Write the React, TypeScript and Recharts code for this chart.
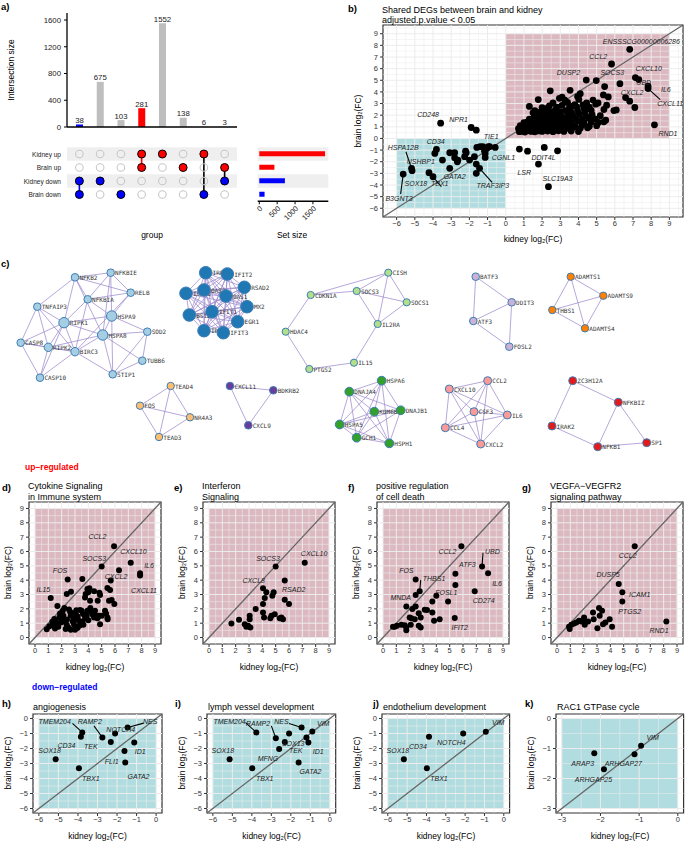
import React from 'react';
import {
  BarChart, Bar, Cell, XAxis, YAxis, ScatterChart, Scatter,
  ReferenceLine, ReferenceArea, LabelList,
} from 'recharts';

const FONT = '"Liberation Sans", Arial, Helvetica, sans-serif';
const MONO = '"DejaVu Sans Mono", monospace';
const RED = '#ff0000';
const BLUE = '#0000ff';
const GREY = '#bebebe';
const PINK = '#dcb9c1';
const TEAL = '#b2dde0';

// ---------------- panel a ----------------
const intersectionIds = [1, 2, 3, 4, 5, 6, 7, 8];
const intersectionSizes = [38, 675, 103, 281, 1552, 138, 6, 3];
const intersectionColors = [BLUE, GREY, GREY, RED, GREY, GREY, GREY, GREY];
const setNames = ['Kidney up', 'Brain up', 'Kidney down', 'Brain down'];
const setSizes = [1839, 422, 716, 147];
const setColors = [RED, RED, BLUE, BLUE];
const intersectionMembers = [[2, 3], [2], [3], [0, 1], [0], [1], [0, 3], [1, 2]];
const linkColors = [BLUE, '', '', RED, '', '', '#000', '#000'];

// ---------------- panel b ----------------
const bUp: number[][] = [
  [6.82, 7.66], [5.82, 6.40], [4.98, 4.97], [4.43, 5.02], [7.13, 5.23], [7.32, 5.06], [6.28, 4.71], [7.83, 4.49], [7.83, 4.29],
  [6.59, 3.51], [6.82, 3.20], [7.10, 2.66], [8.18, 1.17], [5.44, 4.46], [5.37, 3.74], [5.64, 3.57], [5.55, 2.86], [5.40, 2.49],
  [5.95, 2.40], [6.08, 2.45], [5.50, 1.57], [5.40, 1.43], [3.54, 4.14], [2.45, 4.09], [1.79, 3.34],
  [4.10, 3.85], [3.95, 3.60], [4.02, 3.35], [3.10, 3.55], [3.25, 3.30], [2.95, 3.45], [3.40, 3.10], [4.45, 3.05], [4.80, 3.30],
  [4.95, 2.95], [5.08, 3.05], [4.60, 2.70], [4.30, 2.60], [3.80, 2.90], [3.62, 2.75], [2.60, 3.05], [2.30, 2.60], [2.10, 2.40],
  [1.60, 2.40], [1.30, 2.75], [1.50, 2.20],
  [0.75, 0.58], [0.90, 0.62], [1.05, 0.55], [1.20, 0.66], [1.40, 0.60], [1.60, 0.57], [1.80, 0.65], [2.00, 0.60], [2.30, 0.63],
  [2.60, 0.58], [2.90, 0.66], [3.20, 0.60], [3.60, 0.64], [4.00, 0.59],
  [0.70, 0.85], [0.85, 0.90], [1.00, 0.82], [1.15, 0.92], [1.30, 0.86], [1.50, 0.94], [1.70, 0.84], [1.90, 0.90], [2.10, 0.83],
  [2.40, 0.93], [2.70, 0.86], [3.00, 0.91], [3.30, 0.85], [3.70, 0.95], [4.10, 0.88], [4.50, 0.92],
  [0.80, 1.10], [0.95, 1.05], [1.10, 1.15], [1.25, 1.02], [1.45, 1.12], [1.65, 1.06], [1.85, 1.18], [2.05, 1.04], [2.25, 1.14],
  [2.50, 1.08], [2.80, 1.16], [3.10, 1.03], [3.40, 1.12], [3.80, 1.06], [4.20, 1.15], [4.60, 1.05], [5.00, 1.10],
  [1.00, 1.35], [1.20, 1.42], [1.40, 1.32], [1.60, 1.46], [1.80, 1.38], [2.00, 1.30], [2.20, 1.45], [2.45, 1.36], [2.70, 1.48],
  [3.00, 1.33], [3.30, 1.44], [3.60, 1.37], [3.95, 1.47], [4.30, 1.34], [4.70, 1.42], [5.10, 1.38],
  [1.30, 1.65], [1.55, 1.72], [1.75, 1.62], [1.95, 1.78], [2.15, 1.68], [2.40, 1.75], [2.65, 1.64], [2.90, 1.76], [3.20, 1.66],
  [3.50, 1.79], [3.85, 1.70], [4.20, 1.63], [4.55, 1.74], [4.90, 1.68],
  [1.60, 1.95], [1.85, 2.05], [2.05, 1.92], [2.30, 2.08], [2.55, 1.98], [2.80, 2.06], [3.05, 1.94], [3.40, 2.02], [3.70, 1.96],
  [4.05, 2.09], [4.40, 1.97], [4.75, 2.04], [5.20, 1.95],
  [1.90, 2.25], [2.20, 2.35], [2.50, 2.28], [2.75, 2.45], [3.00, 2.30], [3.30, 2.40], [3.60, 2.25], [3.95, 2.38], [4.35, 2.30], [4.70, 2.42],
  [2.00, 2.65], [2.40, 2.80], [2.80, 2.70], [3.10, 2.85], [3.50, 2.62], [3.90, 2.72], [4.25, 2.88],
];
const bOther: number[][] = [
  [-3.58, 1.31], [-1.90, 0.94], [-1.62, 0.71], [0.75, -0.91], [1.20, -1.09], [1.80, -2.20], [2.12, -0.77], [2.85, -1.06], [2.35, -4.14],
];
const bDown: number[][] = [
  [-3.81, -0.94], [-3.90, -1.29], [-5.18, -2.57], [-5.15, -2.77], [-5.64, -3.06], [-4.22, -2.94], [-4.00, -3.29], [-3.08, -2.57],
  [-1.62, -3.00], [-1.44, -2.57], [-1.62, -2.20], [-3.48, -1.86], [-3.08, -1.23], [-2.81, -1.23], [-2.81, -1.66], [-2.63, -1.86],
  [-2.66, -2.00], [-2.26, -1.57], [-2.17, -1.23], [-2.21, -1.09], [-1.99, -1.86], [-1.72, -1.57], [-1.59, -0.77], [-1.41, -0.71],
  [-1.17, -1.06], [-1.04, -0.86], [-0.95, -0.71], [-1.13, -1.63], [-0.89, -0.71], [-1.26, -0.71], [-1.13, -1.29], [-0.58, -0.77],
];
const bLabels: [string, number, number][] = [
  ['ENSSSCG00000006286', 7.46, 8.37], ['CCL2', 5.09, 7.06], ['DUSP2', 3.45, 5.71], ['SOCS3', 5.86, 5.63], ['CXCL10', 7.86, 5.97],
  ['UBD', 7.59, 4.77], ['IL6', 8.81, 4.23], ['CXCL2', 6.95, 3.94], ['CXCL11', 9.05, 3.0], ['RND1', 8.92, 0.43],
  ['CD248', -4.27, 2.06], ['NPR1', -2.59, 1.66], ['TIE1', -0.8, 0.14], ['CD34', -3.85, -0.29], ['HSPA12B', -5.64, -0.77],
  ['USHBP1', -4.67, -2.0], ['CGNL1', -0.13, -1.63], ['DDIT4L', 2.08, -1.6], ['LSR', 1.02, -2.94], ['SLC19A3', 2.85, -3.46],
  ['SOX18', -4.94, -3.86], ['GATA2', -2.81, -3.29], ['TRAF3IP3', -0.71, -4.06], ['TBX1', -3.63, -3.86], ['B3GNT3', -5.87, -5.14],
];
const bLeaders: number[][] = [
  [-5.49, -1.14, -5.18, -2.57], [-5.78, -4.77, -5.64, -3.06], [-3.54, -4.14, -4.0, -3.29], [-0.75, -3.77, -1.44, -2.57], [8.5, 3.34, 7.83, 4.29],
];

// ---------------- panels d-g ----------------
const dPts: number[][] = [
  [5.93, 6.36], [7.18, 5.21], [5.0, 4.95], [6.3, 4.7], [5.68, 3.97], [7.88, 4.49], [7.88, 4.32], [2.45, 4.04], [3.55, 4.09], [1.18, 2.76],
  [1.68, 2.2], [2.38, 3.04], [2.7, 3.2], [3.93, 3.39], [4.08, 3.43], [3.8, 3.04], [4.0, 3.15], [4.43, 3.22], [4.83, 3.13], [4.88, 2.97],
  [5.43, 3.46], [5.63, 3.32], [5.55, 2.57], [5.75, 2.62], [5.95, 2.34], [4.7, 2.57], [4.13, 2.57], [3.75, 2.8], [4.15, 2.06],
  [0.88, 0.58], [1.08, 0.79], [1.38, 0.86], [1.5, 0.63], [1.75, 0.75], [1.83, 1.4], [2.0, 1.26], [2.13, 1.52], [2.25, 1.1], [2.38, 0.89],
  [2.5, 0.7], [2.63, 1.8], [2.68, 1.52], [2.83, 1.12], [2.93, 0.89], [3.0, 1.33], [3.13, 1.52], [3.25, 1.21], [3.33, 0.82], [3.43, 1.0],
  [3.55, 1.12], [3.63, 0.89], [3.75, 1.35], [3.88, 1.52], [3.93, 1.87], [4.13, 1.92], [4.25, 1.75], [4.33, 1.59], [4.43, 1.4], [4.5, 1.87],
  [4.55, 1.52], [4.68, 1.35], [4.8, 1.52], [4.88, 0.93], [5.0, 1.52], [5.33, 1.68], [5.43, 1.4], [5.25, 1.87], [5.45, 1.28], [3.38, 1.92],
  [3.5, 1.87], [3.18, 0.66], [3.0, 0.55], [2.68, 0.55], [2.3, 0.6], [2.08, 1.87], [2.2, 2.06], [1.88, 1.68], [1.3, 1.1], [1.55, 1.15],
  [1.65, 0.95], [2.05, 1.45], [2.55, 1.95], [2.85, 1.7], [3.2, 1.45], [3.6, 1.65], [4.0, 1.2], [1.45, 1.3], [1.95, 1.05], [2.4, 1.25],
  [2.9, 1.3], [3.1, 1.9],
];
const dLabels: [string, number, number][] = [
  ['CCL2', 4.68, 7.01], ['CXCL10', 7.38, 6.03], ['SOCS3', 4.45, 5.49], ['IL6', 8.55, 5.0], ['FOS', 1.88, 4.65],
  ['CXCL2', 6.08, 4.28], ['CXCL11', 8.18, 3.27], ['IL15', 0.63, 3.32],
];
const ePts: number[][] = [
  [5.0, 4.95], [7.18, 5.21], [4.05, 3.43], [5.68, 3.97], [5.68, 2.64], [6.0, 2.34], [4.3, 3.15], [4.18, 2.76], [4.05, 2.34], [4.85, 3.15],
  [4.75, 2.92], [4.05, 1.75], [4.13, 1.4], [3.5, 1.99], [3.05, 1.52], [3.05, 1.28], [3.1, 0.7], [2.93, 0.82], [2.68, 0.93], [2.8, 0.75],
  [2.25, 1.24], [1.68, 0.98], [4.68, 1.52], [4.6, 1.35], [4.93, 1.63], [5.43, 1.4], [5.55, 1.28], [5.3, 1.35],
];
const eLabels: [string, number, number][] = [
  ['SOCS3', 4.43, 5.49], ['CXCL10', 7.88, 5.84], ['CXCL8', 3.35, 3.97], ['RSAD2', 6.35, 3.32],
];
const fPts: number[][] = [
  [5.88, 6.36], [7.43, 4.95], [7.88, 4.49], [5.43, 4.44], [5.43, 3.67], [4.0, 2.92], [3.7, 2.52], [4.88, 2.52], [6.88, 3.22], [5.38, 1.36],
  [4.25, 1.28], [3.83, 1.17], [2.45, 4.04], [2.75, 3.22], [2.45, 2.97], [1.75, 2.17], [2.45, 2.17], [2.2, 1.99], [2.0, 1.4], [2.38, 1.28],
  [2.13, 1.35], [2.68, 1.7], [2.83, 1.4], [3.13, 1.94], [3.3, 1.92], [3.7, 1.75], [2.68, 0.82], [2.83, 0.7], [2.08, 0.89], [1.75, 0.7],
  [1.75, 0.5], [1.63, 0.86], [0.88, 0.75], [1.05, 0.82], [1.38, 0.89], [0.75, 0.75],
];
const fLabels: [string, number, number][] = [
  ['CCL2', 4.83, 6.03], ['UBD', 8.2, 6.03], ['ATF3', 6.33, 5.07], ['FOS', 1.75, 4.65], ['THBS1', 3.83, 4.14], ['IL6', 8.55, 3.79],
  ['FOSL1', 4.75, 3.15], ['MNDA', 1.33, 2.8], ['CD274', 7.55, 2.57], ['IFIT2', 5.75, 0.7],
];
const fLeaders: number[][] = [[7.5, 5.91, 7.43, 4.95], [2.83, 4.02, 2.75, 3.22]];
const gPts: number[][] = [
  [5.83, 6.36], [4.63, 3.74], [4.9, 3.15], [4.9, 2.52], [8.2, 1.12], [3.95, 1.28], [4.13, 0.75], [3.15, 2.06], [3.38, 1.87], [3.2, 1.52],
  [3.03, 0.65], [3.45, 0.93], [3.63, 1.05], [2.7, 1.75], [2.75, 1.28], [2.33, 1.12], [2.03, 1.4], [1.95, 1.21], [1.83, 1.12], [2.08, 0.89],
  [1.65, 1.17], [1.45, 1.05], [1.28, 0.98], [1.08, 0.89], [0.9, 0.75], [0.95, 0.6],
];
const gLabels: [string, number, number][] = [
  ['CCL2', 5.3, 5.7], ['DUSP5', 3.83, 4.39], ['ICAM1', 6.2, 2.99], ['PTGS2', 5.45, 1.8], ['RND1', 7.65, 0.47],
];

// ---------------- panels h-k ----------------
const hPts: number[][] = [
  [-1.46, -0.6], [-3.78, -0.93], [-3.85, -1.22], [-2.75, -1.27], [-2.1, -1.0], [-2.32, -1.56], [-1.12, -1.6], [-1.62, -2.16],
  [-1.58, -2.93], [-5.14, -2.71], [-3.95, -3.31],
];
const hLabels: [string, number, number][] = [
  ['TMEM204', -5.19, -0.2], ['RAMP2', -3.39, -0.2], ['NES', -0.3, -0.2], ['NOTCH4', -1.81, -0.71], ['SOX18', -5.45, -2.16],
  ['CD34', -4.59, -1.82], ['TEK', -3.34, -1.89], ['ID1', -0.81, -2.2], ['FLI1', -2.27, -2.87], ['GATA2', -0.9, -3.87], ['TBX1', -3.34, -3.98],
];
const hLeaders: number[][] = [[-4.28, -0.33, -3.78, -0.93], [-3.18, -0.49, -2.75, -1.27], [-0.64, -0.31, -1.46, -0.6]];
const iPts: number[][] = [
  [-3.77, -0.93], [-2.77, -1.31], [-1.45, -0.6], [-0.9, -0.87], [-2.09, -1.0], [-1.2, -1.27], [-1.1, -1.6], [-2.31, -1.56],
  [-2.6, -2.04], [-1.6, -2.93], [-5.14, -2.71], [-3.98, -3.31],
];
const iLabels: [string, number, number][] = [
  ['TMEM204', -5.14, -0.2], ['RAMP2', -3.68, -0.33], ['NES', -2.48, -0.2], ['VIM', -0.34, -0.31], ['SOX13', -1.88, -1.67],
  ['TEK', -1.75, -2.16], ['ID1', -0.6, -2.2], ['MFNG', -3.17, -2.64], ['GATA2', -0.99, -3.53], ['SOX18', -5.49, -2.16], ['TBX1', -3.34, -3.98],
];
const iLeaders: number[][] = [[-4.32, -0.27, -3.77, -0.93], [-3.0, -0.49, -2.77, -1.31], [-2.09, -0.33, -1.45, -0.6]];
const jPts: number[][] = [[-0.93, -0.89], [-2.1, -1.0], [-3.87, -1.22], [-5.17, -2.71], [-3.98, -3.31]];
const jLabels: [string, number, number][] = [
  ['VIM', -0.29, -0.27], ['NOTCH4', -2.71, -1.6], ['CD34', -4.44, -1.89], ['SOX18', -5.48, -2.16], ['TBX1', -3.35, -3.98],
];
const kPts: number[][] = [[-0.95, -0.91], [-1.12, -1.19], [-2.16, -1.16], [-1.91, -1.69]];
const kLabels: [string, number, number][] = [
  ['VIM', -0.65, -0.63], ['ARHGAP27', -1.41, -1.5], ['ARAP3', -2.46, -1.5], ['ARHGAP25', -2.18, -2.02],
];

// ---------------- panel c (network) ----------------
const netNodes: [string, number, number, string][] = [
  ['NFKB2', 75, 277.3, 'lb'], ['NFKBIE', 110.7, 272.7, 'lb'], ['RELB', 130.7, 292.7, 'lb'], ['NFKBIA', 87.7, 299.3, 'lb'],
  ['TNFAIP3', 37.3, 306.7, 'lb'], ['RIPK1', 64, 322.7, 'lb'], ['HSPA9', 111.7, 316, 'lb'], ['HSPA8', 102.7, 335, 'lb'],
  ['SOD2', 147.3, 331.7, 'lb'], ['CASP8', 20.7, 342.7, 'lb'], ['RIPK2', 48.3, 347.3, 'lb'], ['BIRC3', 75, 351.7, 'lb'],
  ['TUBB6', 142.3, 360.7, 'lb'], ['STIP1', 112.7, 374.3, 'lb'], ['CASP10', 40, 377.7, 'lb'],
  ['IRF7', 205.7, 272.7, 'db'], ['IFIT2', 227.3, 274, 'db'], ['RSAD2', 244.3, 287.3, 'db'], ['ISG20', 186, 293.3, 'db'],
  ['OAS2', 204, 290, 'db'], ['OAS1', 226, 296, 'db'], ['MX2', 247, 306.7, 'db'], ['BST2', 189.3, 315, 'db'],
  ['IFIT1', 212, 311.7, 'db'], ['EGR1', 237.7, 321.7, 'db'], ['IRF8', 204, 330.7, 'db'], ['IFIT3', 223.3, 332.7, 'db'],
  ['CDKN1A', 310.7, 295, 'lg'], ['HDAC4', 285.7, 331.7, 'lg'], ['PTGS2', 309.3, 369, 'lg'], ['CISH', 388.3, 272.7, 'lg'],
  ['SOCS3', 356.7, 291, 'lg'], ['SOCS1', 406.7, 302.3, 'lg'], ['IL2RA', 377.7, 324, 'lg'], ['IL15', 354, 362.7, 'lg'],
  ['BATF3', 475.7, 276.7, 'lv'], ['DDIT3', 511.7, 302.3, 'lv'], ['ATF3', 473.3, 321, 'lv'], ['FOSL2', 509.3, 346.7, 'lv'],
  ['ADAMTS1', 570.7, 276.7, 'or'], ['ADAMTS9', 603.3, 295.7, 'or'], ['THBS1', 552.3, 310, 'or'], ['ADAMTS4', 585, 328.3, 'or'],
  ['TEAD4', 170.7, 386, 'yo'], ['FOS', 140, 405.7, 'yo'], ['NR4A3', 190, 417.3, 'yo'], ['TEAD3', 159, 437, 'yo'],
  ['CXCL11', 230, 386, 'dp'], ['BDKRB2', 273.3, 390.3, 'dp'], ['CXCL9', 248.3, 425.3, 'dp'],
  ['HSPA6', 381.7, 380.7, 'gr'], ['DNAJA4', 349.3, 391.7, 'gr'], ['KDM6B', 374.3, 411.7, 'gr'], ['DNAJB1', 400.7, 410.3, 'gr'],
  ['HSPA5', 339.7, 424.5, 'gr'], ['GCH1', 356.7, 437.7, 'gr'], ['HSPH1', 389.3, 443.3, 'gr'],
  ['CCL2', 487.7, 380.7, 'pk'], ['CXCL10', 449.3, 389, 'pk'], ['CSF3', 474, 411.7, 'pk'], ['IL6', 507.3, 415, 'pk'],
  ['CCL4', 445.3, 427.7, 'pk'], ['CXCL2', 480.7, 444, 'pk'],
  ['ZC3H12A', 572.7, 380.7, 'rd'], ['NFKBIZ', 618.3, 402.3, 'rd'], ['IRAK2', 552, 426, 'rd'], ['NFKB1', 597.7, 446.7, 'rd'], ['SP1', 646.7, 442.7, 'rd'],
];
const netEdges: [string, string][] = [
  ['NFKB2', 'NFKBIE'], ['NFKB2', 'TNFAIP3'], ['NFKB2', 'NFKBIA'], ['NFKB2', 'RELB'], ['NFKB2', 'RIPK1'], ['NFKB2', 'HSPA8'],
  ['NFKBIE', 'NFKBIA'], ['NFKBIE', 'RELB'], ['NFKBIE', 'HSPA9'], ['NFKBIE', 'HSPA8'], ['NFKBIA', 'RELB'], ['NFKBIA', 'RIPK1'],
  ['NFKBIA', 'HSPA9'], ['NFKBIA', 'BIRC3'], ['RELB', 'HSPA9'], ['RELB', 'BIRC3'], ['TNFAIP3', 'RIPK1'], ['TNFAIP3', 'CASP8'],
  ['TNFAIP3', 'RIPK2'], ['TNFAIP3', 'BIRC3'], ['RIPK1', 'CASP8'], ['RIPK1', 'RIPK2'], ['RIPK1', 'BIRC3'], ['RIPK1', 'HSPA9'],
  ['RIPK1', 'HSPA8'], ['RIPK1', 'CASP10'], ['CASP8', 'RIPK2'], ['CASP8', 'BIRC3'], ['CASP8', 'CASP10'], ['RIPK2', 'BIRC3'],
  ['RIPK2', 'CASP10'], ['RIPK2', 'HSPA8'], ['BIRC3', 'HSPA8'], ['BIRC3', 'STIP1'], ['BIRC3', 'CASP10'], ['HSPA9', 'HSPA8'],
  ['HSPA9', 'SOD2'], ['HSPA9', 'STIP1'], ['HSPA8', 'SOD2'], ['HSPA8', 'STIP1'], ['HSPA8', 'TUBB6'], ['SOD2', 'TUBB6'],
  ['SOD2', 'STIP1'], ['TUBB6', 'STIP1'],
  ['CDKN1A', 'HDAC4'], ['HDAC4', 'PTGS2'], ['CDKN1A', 'CISH'], ['CDKN1A', 'SOCS3'], ['PTGS2', 'IL15'], ['IL2RA', 'IL15'],
  ['CISH', 'SOCS3'], ['CISH', 'SOCS1'], ['CISH', 'IL2RA'], ['SOCS3', 'SOCS1'], ['SOCS3', 'IL2RA'], ['SOCS1', 'IL2RA'],
  ['BATF3', 'DDIT3'], ['BATF3', 'ATF3'], ['ATF3', 'DDIT3'], ['ATF3', 'FOSL2'], ['DDIT3', 'FOSL2'],
  ['ADAMTS1', 'ADAMTS9'], ['ADAMTS1', 'THBS1'], ['ADAMTS1', 'ADAMTS4'], ['THBS1', 'ADAMTS9'], ['THBS1', 'ADAMTS4'], ['ADAMTS9', 'ADAMTS4'],
  ['TEAD4', 'FOS'], ['TEAD4', 'NR4A3'], ['TEAD4', 'TEAD3'], ['FOS', 'NR4A3'], ['FOS', 'TEAD3'], ['NR4A3', 'TEAD3'],
  ['CXCL11', 'BDKRB2'], ['CXCL11', 'CXCL9'], ['BDKRB2', 'CXCL9'],
  ['ZC3H12A', 'NFKBIZ'], ['ZC3H12A', 'IRAK2'], ['IRAK2', 'NFKB1'], ['NFKBIZ', 'NFKB1'], ['NFKBIZ', 'SP1'], ['NFKB1', 'SP1'],
];
const fullyConnectedGroups = ['db', 'gr', 'pk'];
const groupColors: Record<string, string> = {
  lb: '#a6cee3', db: '#1f78b4', lg: '#b2df8a', lv: '#cab2d6', or: '#ff7f00', yo: '#fdbf6f', dp: '#6a3d9a', gr: '#33a02c', pk: '#fb9a99', rd: '#e31a1c',
};
const groupRadius: Record<string, number> = { lb: 3.8, db: 6.3, lg: 3.6, lv: 3.8, or: 3.7, yo: 3.7, dp: 3.8, gr: 4.4, pk: 4.0, rd: 4.0 };
const bigNodes: Record<string, number> = { RIPK1: 5.2, HSPA9: 5.2, HSPA8: 5.2, RIPK2: 4.2, BIRC3: 4.2 };

// ---------------- helpers ----------------
const fmt = (v: number) => (v < 0 ? '\u2212' + Math.abs(v) : String(v));
const tickStyle = { fontSize: 7.5, fill: '#333', fontFamily: FONT };

function XYPanel(props: any) {
  const { box, dom, ticks, rects, pts, labs, segs, r } = props;
  const [bx, by, bw, bh] = box;
  const YW = 24, MT = 4, MR = 4, XH = 16;
  const grid: number[] = [];
  for (let v = Math.ceil(dom[0] * 2) / 2; v <= dom[1] + 1e-9; v += 0.5) grid.push(v);
  const ptData = pts.map((p: number[]) => ({ x: p[0], y: p[1] }));
  const labData = labs.map((l: any) => ({ t: l[0], x: l[1], y: l[2] }));
  return (
    <div style={{ position: 'absolute', left: bx - YW, top: by - MT }}>
      <ScatterChart width={bw + YW + MR} height={bh + MT + XH} margin={{ top: MT, right: MR, bottom: 0, left: 0 }}>
        <XAxis type="number" dataKey="x" domain={dom} ticks={ticks} interval={0} allowDataOverflow height={XH}
          tickSize={3} tickMargin={1} axisLine={false} tickLine={{ stroke: '#333' }} tick={tickStyle} tickFormatter={fmt} />
        <YAxis type="number" dataKey="y" domain={dom} ticks={ticks} interval={0} allowDataOverflow width={YW}
          tickSize={3} tickMargin={2} axisLine={false} tickLine={{ stroke: '#333' }} tick={tickStyle} tickFormatter={fmt} />
        {rects.map((q: any[], i: number) => (
          <ReferenceArea key={'r' + i} x1={q[0]} y1={q[1]} x2={q[2]} y2={q[3]} fill={q[4]} fillOpacity={1} stroke="none" ifOverflow="visible" />
        ))}
        {grid.map((v) => (
          <ReferenceLine key={'gx' + v} x={v} stroke="#ececec" strokeWidth={Number.isInteger(v) ? 1 : 0.55} ifOverflow="visible" />
        ))}
        {grid.map((v) => (
          <ReferenceLine key={'gy' + v} y={v} stroke="#ececec" strokeWidth={Number.isInteger(v) ? 1 : 0.55} ifOverflow="visible" />
        ))}
        <ReferenceLine segment={[{ x: dom[0], y: dom[0] }, { x: dom[1], y: dom[1] }]} stroke="#666" strokeWidth={1.3} ifOverflow="visible" />
        {segs.map((s: number[], i: number) => (
          <ReferenceLine key={'s' + i} segment={[{ x: s[0], y: s[1] }, { x: s[2], y: s[3] }]} stroke="#000" strokeWidth={1.1} ifOverflow="visible" />
        ))}
        <ReferenceArea x1={dom[0]} x2={dom[1]} y1={dom[0]} y2={dom[1]} fill="none" fillOpacity={0} stroke="#333" strokeWidth={1.2} ifOverflow="visible" />
        <Scatter data={ptData} isAnimationActive={false}
          shape={(p: any) => <circle cx={p.cx} cy={p.cy} r={r} fill="#000" />} />
        <Scatter data={labData} isAnimationActive={false}
          shape={(p: any) => (
            <text x={p.cx} y={p.cy} textAnchor="middle" dominantBaseline="central" fontSize={7} fontStyle="italic" fill="#222" fontFamily={FONT}>
              {p.payload.t}
            </text>
          )} />
      </ScatterChart>
    </div>
  );
}

function PanelA() {
  const barData = intersectionIds.map((id, i) => ({ id, size: intersectionSizes[i] }));
  const dots: any[] = [];
  intersectionIds.forEach((id, i) =>
    setNames.forEach((s, j) => dots.push({ x: id, y: 4 - j, on: intersectionMembers[i].includes(j), c: setColors[j] })),
  );
  const links = intersectionIds
    .map((id, i) => {
      const m = intersectionMembers[i];
      if (m.length < 2) return null;
      return { x: id, y1: 4 - Math.min(...m), y2: 4 - Math.max(...m), c: linkColors[i] };
    })
    .filter(Boolean) as any[];
  const setData = setNames.map((n, i) => ({ name: n, size: setSizes[i] }));
  const xDom: [number, number] = [0.4036, 8.5964];
  return (
    <>
      <div style={{ position: 'absolute', left: 0, top: 0 }}>
        <BarChart width={240} height={135} data={barData} margin={{ top: 13, right: 3, bottom: 0, left: 0 }} barSize={7}>
          <XAxis dataKey="id" height={8} tick={false} tickLine={false} axisLine={{ stroke: '#000', strokeWidth: 1.3 }} padding={{ left: 2, right: 2 }} />
          <YAxis type="number" domain={[0, 1705]} ticks={[0, 400, 800, 1200, 1600]} interval={0} allowDataOverflow width={67}
            tickSize={3} tickMargin={3} axisLine={{ stroke: '#000', strokeWidth: 1.3 }} tickLine={{ stroke: '#000' }}
            tick={{ fontSize: 7.8, fill: '#222', fontFamily: FONT }} />
          <Bar dataKey="size" isAnimationActive={false}>
            {barData.map((d, i) => <Cell key={i} fill={intersectionColors[i]} />)}
            <LabelList dataKey="size" position="top" offset={1.5} fontSize={7.8} fill="#222" fontFamily={FONT} />
          </Bar>
        </BarChart>
      </div>
      <div style={{ position: 'absolute', left: 0, top: 140 }}>
        <ScatterChart width={240} height={70} margin={{ top: 7.25, right: 3, bottom: 8.75, left: 0 }}>
          <XAxis type="number" dataKey="x" domain={xDom} hide allowDataOverflow />
          <YAxis type="number" dataKey="y" domain={[0.5, 4.5]} ticks={[1, 2, 3, 4]} interval={0} allowDataOverflow width={67}
            tickSize={0} tickMargin={6} axisLine={false} tickLine={false}
            tick={(p: any) => (
              <text x={p.x} y={p.y} textAnchor="end" dominantBaseline="central" fontSize={6.5} fill="#222" fontFamily={FONT}>
                {setNames[4 - p.payload.value]}
              </text>
            )} />
          <ReferenceArea x1={xDom[0]} x2={xDom[1]} y1={3.5} y2={4.5} fill="#efefef" fillOpacity={1} stroke="none" ifOverflow="visible" />
          <ReferenceArea x1={xDom[0]} x2={xDom[1]} y1={1.5} y2={2.5} fill="#efefef" fillOpacity={1} stroke="none" ifOverflow="visible" />
          {links.map((l, i) => (
            <ReferenceLine key={i} segment={[{ x: l.x, y: l.y1 }, { x: l.x, y: l.y2 }]} stroke={l.c} strokeWidth={1.6} ifOverflow="visible" />
          ))}
          <Scatter data={dots} isAnimationActive={false}
            shape={(p: any) =>
              p.payload.on ? (
                <circle cx={p.cx} cy={p.cy} r={4} fill={p.payload.c} stroke="#000" strokeWidth={1} />
              ) : (
                <circle cx={p.cx} cy={p.cy} r={3.8} fill="none" stroke="#c8c8c8" strokeWidth={1.1} />
              )
            } />
        </ScatterChart>
      </div>
      <div style={{ position: 'absolute', left: 250, top: 140 }}>
        <BarChart layout="vertical" width={82} height={100} data={setData} margin={{ top: 7.25, right: 3.7, bottom: 0, left: 7.7 }} barSize={5}>
          <XAxis type="number" domain={[-45, 1930]} ticks={[0, 500, 1000, 1500]} interval={0} allowDataOverflow height={38.75}
            tickSize={3} tickMargin={1} angle={-45} textAnchor="end" axisLine={{ stroke: '#000', strokeWidth: 1.3 }} tickLine={{ stroke: '#000' }}
            tick={{ fontSize: 7.5, fill: '#222', fontFamily: FONT, textAnchor: 'end' }} />
          <YAxis type="category" dataKey="name" hide />
          <ReferenceArea y1="Kidney up" y2="Kidney up" x1={-45} x2={1930} fill="#efefef" fillOpacity={1} stroke="none" ifOverflow="visible" />
          <ReferenceArea y1="Kidney down" y2="Kidney down" x1={-45} x2={1930} fill="#efefef" fillOpacity={1} stroke="none" ifOverflow="visible" />
          <Bar dataKey="size" isAnimationActive={false}>
            {setData.map((d, i) => <Cell key={i} fill={setColors[i]} />)}
          </Bar>
        </BarChart>
      </div>
    </>
  );
}

function Network() {
  const nodeData = netNodes.map(([name, x, y, g]) => ({
    name, x, y, c: groupColors[g], r: bigNodes[name] || groupRadius[g],
  }));
  const byName: Record<string, any> = {};
  nodeData.forEach((n) => (byName[n.name] = n));
  const edges: [string, string][] = [...netEdges];
  fullyConnectedGroups.forEach((g) => {
    const mem = netNodes.filter((n) => n[3] === g).map((n) => n[0]);
    for (let i = 0; i < mem.length; i++) for (let j = i + 1; j < mem.length; j++) edges.push([mem[i], mem[j]]);
  });
  return (
    <div style={{ position: 'absolute', left: 0, top: 255 }}>
      <ScatterChart width={685} height={215} margin={{ top: 0, right: 0, bottom: 0, left: 0 }}>
        <XAxis type="number" dataKey="x" domain={[0, 685]} hide allowDataOverflow />
        <YAxis type="number" dataKey="y" domain={[255, 470]} reversed hide allowDataOverflow />
        {edges.map(([a, b], i) => (
          <ReferenceLine key={i} segment={[{ x: byName[a].x, y: byName[a].y }, { x: byName[b].x, y: byName[b].y }]}
            stroke="#9d89cc" strokeOpacity={0.75} strokeWidth={1} ifOverflow="visible" />
        ))}
        <Scatter data={nodeData} isAnimationActive={false}
          shape={(p: any) => (
            <g>
              <circle cx={p.cx} cy={p.cy} r={p.payload.r} fill={p.payload.c} stroke="#3c7db5" strokeWidth={1} />
              <text x={p.cx + p.payload.r + 0.6} y={p.cy} dominantBaseline="central" fontSize={6} fontFamily={MONO} fill="#333">
                {p.payload.name}
              </text>
            </g>
          )} />
      </ScatterChart>
    </div>
  );
}

const upTicks = [0, 1, 2, 3, 4, 5, 6, 7, 8, 9];
const downTicks = [-6, -5, -4, -3, -2, -1, 0];
const kTicks = [-3, -2, -1, 0];
const bTicks = [-6, -5, -4, -3, -2, -1, 0, 1, 2, 3, 4, 5, 6, 7, 8, 9];
const upRect = [[0, 0, 9, 9, PINK]];
const downRect = [[-6, -6, 0, 0, TEAL]];
const kRect = [[-3, -3, 0, 0, TEAL]];

const upBoxes = [
  { box: [29, 501.6, 132, 142], pts: dPts, labs: dLabels, segs: [] as number[][] },
  { box: [203, 501.6, 132, 142], pts: ePts, labs: eLabels, segs: [] as number[][] },
  { box: [377, 501.6, 132, 142], pts: fPts, labs: fLabels, segs: fLeaders },
  { box: [551, 501.6, 132, 142], pts: gPts, labs: gLabels, segs: [] as number[][] },
];
const downBoxes = [
  { box: [33, 713.5, 129, 99], pts: hPts, labs: hLabels, segs: hLeaders, dom: [-6.3, 0.3], ticks: downTicks, rects: downRect },
  { box: [207.2, 713.5, 128.7, 99], pts: iPts, labs: iLabels, segs: iLeaders, dom: [-6.3, 0.3], ticks: downTicks, rects: downRect },
  { box: [382.2, 713.5, 127.6, 99], pts: jPts, labs: jLabels, segs: [] as number[][], dom: [-6.3, 0.3], ticks: downTicks, rects: downRect },
  { box: [556.2, 713.5, 127.6, 99], pts: kPts, labs: kLabels, segs: [] as number[][], dom: [-3.15, 0.15], ticks: kTicks, rects: kRect },
];

function T(props: any) {
  const { x, y, s = 8.5, w, a = 'start', c = '#000', rot, it, fam, children } = props;
  return (
    <text x={x} y={y} fontSize={s} fontWeight={w} textAnchor={a} fill={c} fontStyle={it ? 'italic' : undefined}
      fontFamily={fam || FONT} transform={rot ? `rotate(-90 ${x} ${y})` : undefined}>
      {children}
    </text>
  );
}

function Overlay() {
  const xt = 'kidney log\u2082(FC)';
  const yt = 'brain log\u2082(FC)';
  const L = (x: number, y: number, t: string) => <T x={x} y={y} s={9.5} w="bold">{t}</T>;
  return (
    <svg width={685} height={842} style={{ position: 'absolute', left: 0, top: 0, pointerEvents: 'none' }}>
      {L(1, 10, 'a)')}
      {L(348, 12, 'b)')}
      {L(1, 267, 'c)')}
      {L(2, 491, 'd)')}{L(174, 491, 'e)')}{L(348, 491, 'f)')}{L(522, 491, 'g)')}
      {L(2, 707, 'h)')}{L(175, 707, 'i)')}{L(373, 707, 'j)')}{L(525, 707, 'k)')}
      <T x={14} y={70} a="middle" rot>Intersection size</T>
      <T x={152} y={238} a="middle">group</T>
      <T x={292} y={238} a="middle">Set size</T>
      <T x={382} y={12.5} s={9}>Shared DEGs between brain and kidney</T>
      <T x={382} y={22.5} s={9}>adjusted.p.value &lt; 0.05</T>
      <T x={533} y={242} a="middle">{xt}</T>
      <T x={361} y={121} a="middle" rot>{yt}</T>
      <T x={25} y={470} s={8.5} w="bold" c={RED}>up{'\u2212'}regulated</T>
      <T x={32} y={690} s={8.5} w="bold" c={BLUE}>down{'\u2212'}regulated</T>
      <T x={28} y={489} s={9}>Cytokine Signaling</T>
      <T x={28} y={499.5} s={9}>in Immune system</T>
      <T x={202} y={489} s={9}>Interferon</T>
      <T x={202} y={499.5} s={9}>Signaling</T>
      <T x={376} y={489} s={9}>positive regulation</T>
      <T x={376} y={499.5} s={9}>of cell death</T>
      <T x={550} y={489} s={9}>VEGFA{'\u2212'}VEGFR2</T>
      <T x={550} y={499.5} s={9}>signaling pathway</T>
      <T x={33} y={709.5} s={9}>angiogenesis</T>
      <T x={208} y={709.5} s={9}>lymph vessel development</T>
      <T x={383} y={709.5} s={9}>endothelium development</T>
      <T x={557} y={709.5} s={9}>RAC1 GTPase cycle</T>
      {upBoxes.map((b, i) => (
        <g key={'u' + i}>
          <T x={b.box[0] + b.box[2] / 2} y={670} a="middle">{xt}</T>
          <T x={b.box[0] - 18} y={572.5} a="middle" rot>{yt}</T>
        </g>
      ))}
      {downBoxes.map((b, i) => (
        <g key={'d' + i}>
          <T x={b.box[0] + b.box[2] / 2} y={839} a="middle">{xt}</T>
          <T x={b.box[0] - 22} y={763} a="middle" rot>{yt}</T>
        </g>
      ))}
    </svg>
  );
}

export default function App() {
  return (
    <div style={{ position: 'relative', width: 685, height: 842, background: '#fff', fontFamily: FONT, overflow: 'hidden' }}>
      <style>{'body{margin:0;}'}</style>
      <PanelA />
      <XYPanel box={[383, 25, 300, 192]} dom={[-6.75, 9.75]} ticks={bTicks}
        rects={[[0, 0, 9, 9, PINK], [-6, -6, 0, 0, TEAL]]}
        pts={[...bUp, ...bOther, ...bDown]} labs={bLabels} segs={bLeaders} r={3.4} />
      <Network />
      {upBoxes.map((b, i) => (
        <XYPanel key={'up' + i} box={b.box} dom={[-0.45, 9.45]} ticks={upTicks} rects={upRect} pts={b.pts} labs={b.labs} segs={b.segs} r={3} />
      ))}
      {downBoxes.map((b, i) => (
        <XYPanel key={'dn' + i} box={b.box} dom={b.dom} ticks={b.ticks} rects={b.rects} pts={b.pts} labs={b.labs} segs={b.segs} r={3} />
      ))}
      <Overlay />
    </div>
  );
}
